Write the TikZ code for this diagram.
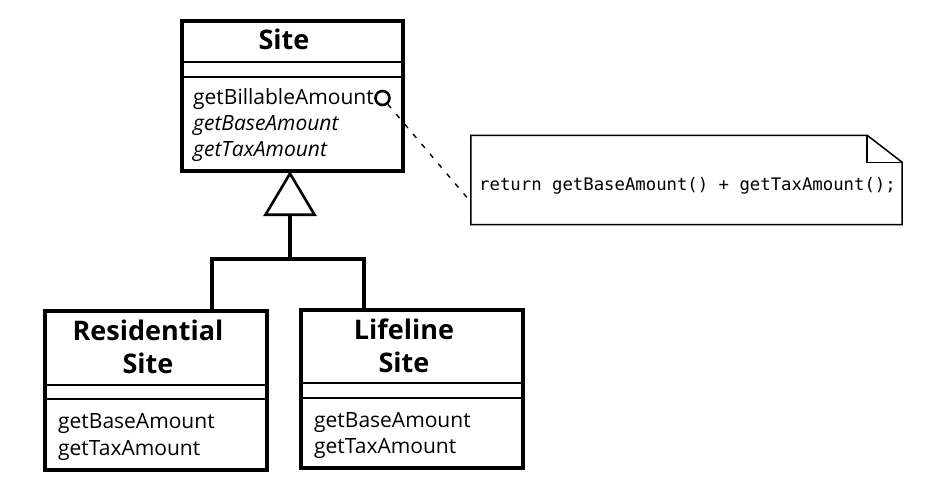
\documentclass[tikz,border=0pt]{standalone}
\usepackage{fontspec}
\setmainfont{Open Sans}
\setmonofont{DejaVu Sans Mono}
\usetikzlibrary{positioning,arrows.meta}
\tikzset{
  classbox/.style={draw,line width=3.1pt,inner sep=0pt},
  ttl/.style={font=\fontsize{27}{31}\selectfont\bfseries,anchor=base,inner sep=0pt},
  mth/.style={font=\fontsize{21}{25}\selectfont,anchor=base west,inner sep=0pt},
  sepline/.style={line width=1.6pt}
}
\begin{document}
\begin{tikzpicture}[x=1pt,y=-1pt]
\useasboundingbox (0,0) rectangle (927,487);
% abstract class
\node[classbox,minimum width=221pt,minimum height=150pt] (site) at (292.5,96) {};
\node[ttl] (sitettl) at (284,50) {Site};
\draw[sepline] (site.west |- 0,62) -- (site.east |- 0,62);
\draw[sepline] (site.west |- 0,77) -- (site.east |- 0,77);
\node[mth] (billable) at (193,105) {getBillableAmount};
\node[mth] (sitebase) at (193,130) {\itshape getBaseAmount};
\node[mth] (sitetax) at (193,156) {\itshape getTaxAmount};
\node[circle,draw,line width=2.6pt,minimum size=14pt,inner sep=0pt] (hook) at (382.5,98) {};
% subclasses
\node[classbox,minimum width=222pt,minimum height=159pt] (res) at (156,390.5) {};
\node[ttl] (resttl) at (148,340) {Residential};
\node[ttl] (resttl2) at (148,373) {Site};
\draw[sepline] (res.west |- 0,385) -- (res.east |- 0,385);
\draw[sepline] (res.west |- 0,399) -- (res.east |- 0,399);
\node[mth] (resbase) at (58,428) {getBaseAmount};
\node[mth] (restax) at (58,455) {getTaxAmount};
\node[classbox,minimum width=222pt,minimum height=158pt] (life) at (412,389) {};
\node[ttl] (lifettl) at (404,339) {Lifeline};
\node[ttl] (lifettl2) at (404,372) {Site};
\draw[sepline] (life.west |- 0,383) -- (life.east |- 0,383);
\draw[sepline] (life.west |- 0,398) -- (life.east |- 0,398);
\node[mth] (lifebase) at (314,427) {getBaseAmount};
\node[mth] (lifetax) at (314,453) {getTaxAmount};
% generalization
\coordinate (fork) at (290,259);
\draw[line width=3.1pt] ([xshift=56pt]res.north) |- (fork) -| ([xshift=-48pt]life.north);
\draw[line width=3.1pt,-{Triangle[open,length=45pt,width=53pt,line width=2.6pt]}] (fork) -- (290,171);
% note
\node[minimum width=431pt,minimum height=89pt,inner sep=0pt] (note) at (686.5,180) {};
\draw[line width=1.5pt] (note.north west) -- ([xshift=-35pt]note.north east) -- ([yshift=-27pt]note.north east)
  -- (note.south east) -- (note.south west) -- cycle;
\draw[line width=1.5pt] ([xshift=-35pt]note.north east) |- ([yshift=-27pt]note.north east);
\node[font=\fontsize{17.3}{20}\selectfont\ttfamily,anchor=base west,inner sep=0pt] (code) at (479,190)
  {return getBaseAmount() + getTaxAmount();};
\draw[line width=1.4pt,dash pattern=on 5pt off 8pt] (hook) -- ([yshift=-22pt]note.west);
\end{tikzpicture}
\end{document}
